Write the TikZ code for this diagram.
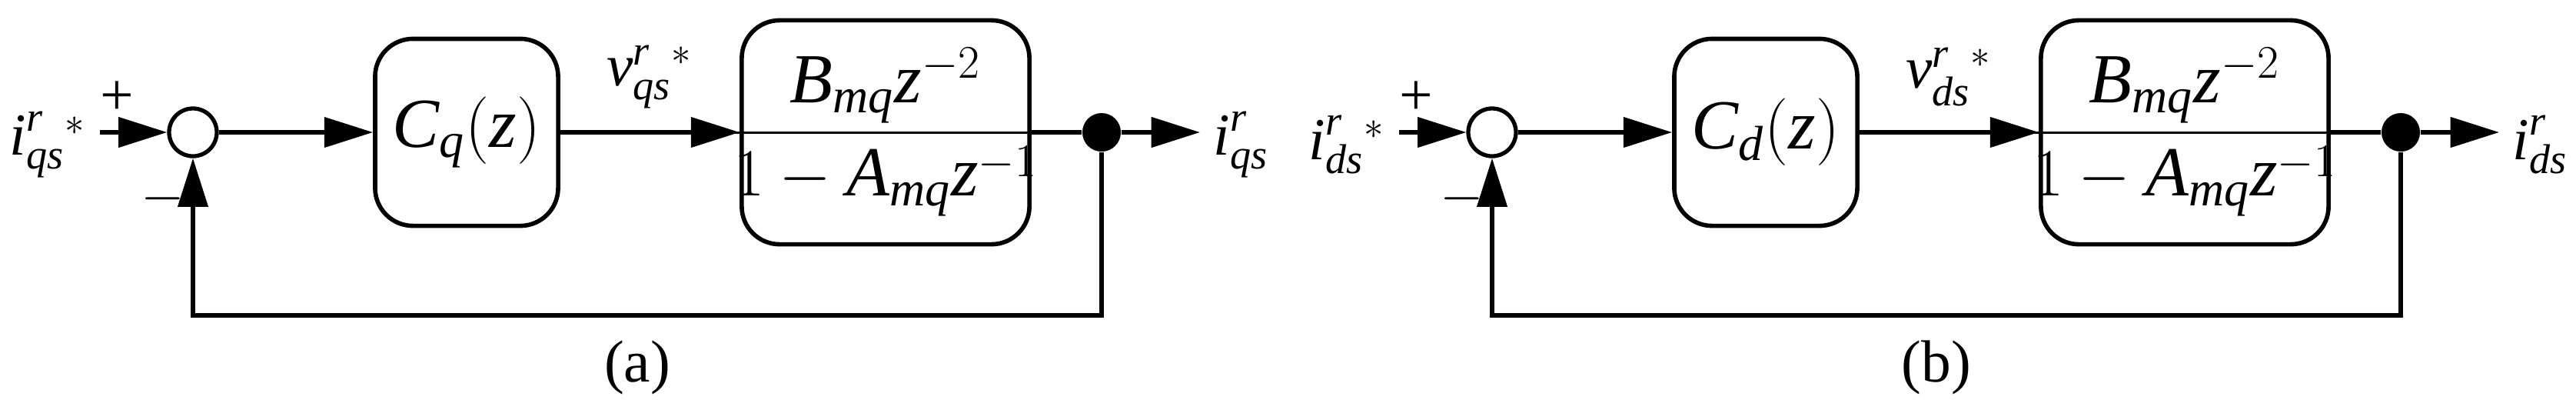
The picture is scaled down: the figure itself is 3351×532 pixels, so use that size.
\documentclass[tikz,border=0pt]{standalone}
\usepackage{amsmath}
\usepackage{fontspec}
\setmainfont{Liberation Serif}
\usetikzlibrary{arrows.meta}
\begin{document}
\begin{tikzpicture}[x=0.01cm,y=-0.01cm,
  ln/.style={line width=1.5pt},
  arr/.style={ln,-{Triangle[length=18pt,width=11pt]}},
  blk/.style={draw,line width=1.6pt,rounded corners=14pt,inner sep=0pt},
  lbl/.style={font=\fontsize{22}{26}\selectfont,inner sep=0pt},
  big/.style={font=\fontsize{26}{30}\selectfont,inner sep=0pt},
  sumc/.style={circle,draw,line width=1.5pt,minimum size=0.62cm,inner sep=0pt},
  dotc/.style={circle,fill,minimum size=0.5cm,inner sep=0pt}]
\useasboundingbox (0,0) rectangle (3351,532);
\foreach \o/\s/\c in {0/q/a,1690/d/b}{
  \begin{scope}[xshift=\o*0.01cm]
  \coordinate (in\s) at (130,172);
  \node[sumc] (sum\s) at (251,172) {};
  \node[blk,minimum width=2.38cm,minimum height=2.43cm] (C\s) at (607,172) {};
  \node[big] at (607,172) {$\textit{C}_{\textit{\s}}(\textit{z})$};
  \node[blk,minimum width=3.74cm,minimum height=2.91cm] (P\s) at (1152,172) {};
  \node[big] at (1152,172) {$\displaystyle\frac{\textit{B}_{\textit{mq}}\textit{z}^{-2}}{1-\textit{A}_{\textit{mq}}\textit{z}^{-1}}$};
  \node[dotc] (dot\s) at (1433,172) {};
  \coordinate (out\s) at (1561,172);
  \coordinate (fb\s) at (1433,410);
  \coordinate (fbl\s) at (251,410);
  \node[lbl,anchor=east] (ilab\s) at (112,188) {$\textit{i}^{\textit{r}}_{\textit{\s s}}{}^{*}$};
  \node[lbl,anchor=west] (olab\s) at (1578,188) {$\textit{i}^{\textit{r}}_{\textit{\s s}}$};
  \node[lbl] (vlab\s) at (845,100) {$\textit{v}^{\textit{r}}_{\textit{\s s}}{}^{*}$};
  \node[lbl] (plus\s) at (152,128) {+};
  \node[lbl] (minus\s) at (212,258) {$-$};
  \node[lbl] (cap\s) at (829,478) {(\c)};
  \draw[arr] (in\s) -- (sum\s);
  \draw[arr] (sum\s) -- (C\s);
  \draw[arr] (C\s) -- (P\s);
  \draw[ln] (P\s) -- (dot\s);
  \draw[arr] (dot\s) -- (out\s);
  \draw[arr] (dot\s) -- (fb\s) -- (fbl\s) -- (sum\s);
  \end{scope}
}
\end{tikzpicture}
\end{document}
